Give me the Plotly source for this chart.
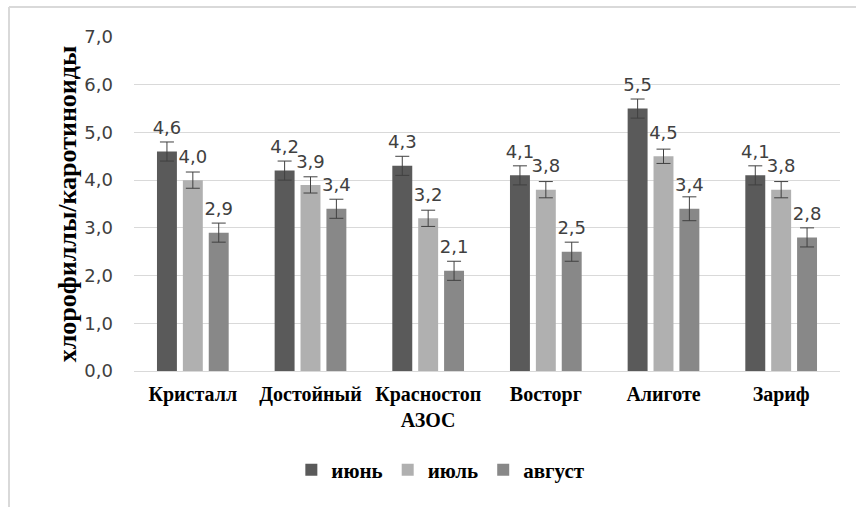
import plotly.graph_objects as go

categories = ["Кристалл", "Достойный", "Красностоп<br>АЗОС", "Восторг", "Алиготе", "Зариф"]
series_names = ["июнь", "июль", "август"]
june = [4.6, 4.2, 4.3, 4.1, 5.5, 4.1]
july = [4.0, 3.9, 3.2, 3.8, 4.5, 3.8]
august = [2.9, 3.4, 2.1, 2.5, 3.4, 2.8]
june_err = [0.2, 0.2, 0.2, 0.2, 0.2, 0.2]
july_err = [0.17, 0.17, 0.17, 0.17, 0.15, 0.17]
august_err = [0.2, 0.2, 0.2, 0.2, 0.25, 0.2]
colors = ["#5a5a5a", "#b0b0b0", "#888888"]
y_ticks = [0, 1, 2, 3, 4, 5, 6, 7]

num_font = dict(family="DejaVu Sans, sans-serif", size=18, color="#404040")
serif_bold = "Liberation Serif, Times New Roman, serif"

fig = go.Figure()
all_vals = [june, july, august]
for name, vals, errs, col in zip(series_names, all_vals,
                                 [june_err, july_err, august_err], colors):
    fig.add_trace(go.Bar(
        x=categories, y=vals, name=name,
        marker=dict(color=col, line=dict(width=0)),
        error_y=dict(type="data", array=errs, visible=True,
                     color="#404040", thickness=1, width=7),
        hoverinfo="x+y",
    ))
# data labels (grouped to sit over their bars)
for name, vals in zip(series_names, all_vals):
    fig.add_trace(go.Scatter(
        x=categories, y=vals, mode="markers+text", showlegend=False,
        marker=dict(size=19, opacity=0),
        text=[f"{v:.1f}".replace(".", ",") for v in vals],
        textposition="top center", textfont=num_font,
        cliponaxis=False, hoverinfo="skip",
    ))

L, R, T, B = 134, 16, 37, 136
W, H = 856, 507
pw, ph = W - L - R, H - T - B

top_y = 1 + (T - 7) / ph
left_x = (9 - L) / pw

fig.update_layout(
    width=W, height=H,
    margin=dict(l=L, r=R, t=T, b=B),
    paper_bgcolor="white", plot_bgcolor="white",
    barmode="group", bargap=0.34, bargroupgap=0.23,
    scattermode="group", scattergap=0.34,
    separators=", ",
    showlegend=True,
    legend=dict(orientation="h", xref="container", x=0.515, xanchor="center",
                yref="container", y=0.073, yanchor="middle",
                font=dict(family=serif_bold, size=21, color="black", weight="bold"),
                itemwidth=30, traceorder="normal"),
    xaxis=dict(showgrid=False, showline=True, linecolor="#d9d9d9", linewidth=1,
               tickfont=dict(family=serif_bold, size=20, color="black", weight="bold"),
               ticks="", ticklabelstandoff=5),
    yaxis=dict(range=[0, 7], tickvals=y_ticks, tickformat=".1f",
               showgrid=True, gridcolor="#d9d9d9", gridwidth=1,
               zeroline=False, showline=False,
               tickfont=num_font, ticklabelstandoff=20,
               title=dict(text="хлорофиллы/каротиноиды", standoff=0,
                          font=dict(family=serif_bold, size=26, color="black", weight="bold"))),
    shapes=[
        dict(type="line", xref="paper", yref="paper", x0=left_x, x1=(W - L) / pw,
             y0=top_y, y1=top_y, line=dict(color="#d9d9d9", width=2)),
        dict(type="line", xref="paper", yref="paper", x0=left_x, x1=left_x,
             y0=top_y, y1=-(B) / ph, line=dict(color="#d9d9d9", width=2)),
    ],
)

fig.write_html("out.html", config={"displayModeBar": False},
               post_script="document.body.style.margin='0';")
